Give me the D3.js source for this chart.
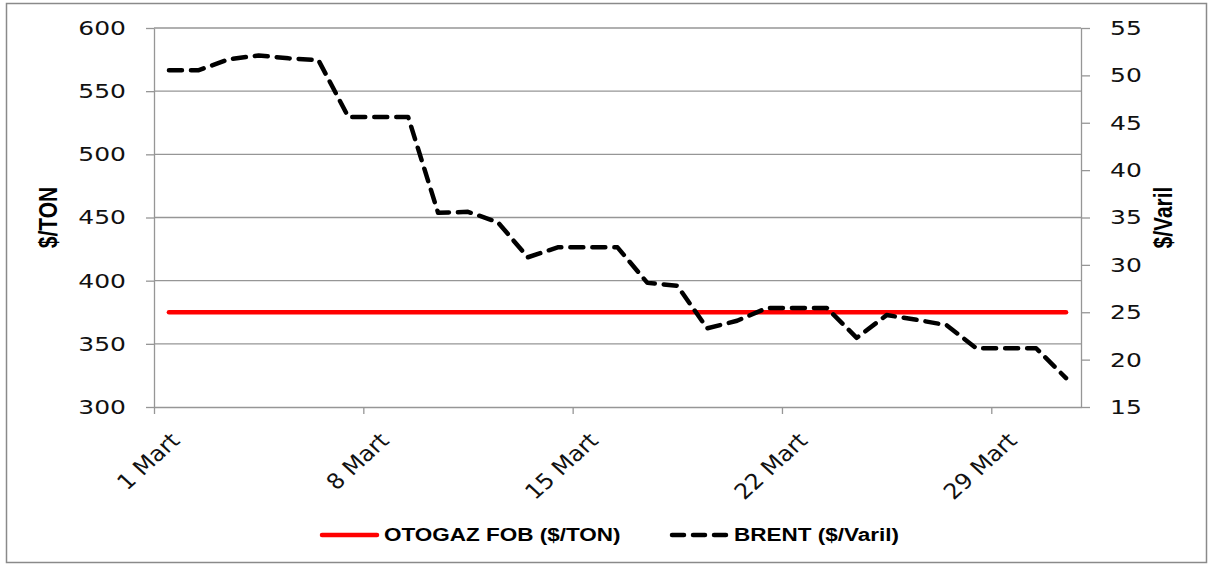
<!DOCTYPE html>
<html>
<head>
<meta charset="utf-8">
<script src="https://cdn.jsdelivr.net/npm/d3@7"></script>
<style>
  body { margin: 0; background: #fff; }
</style>
</head>
<body>
<script>
// Data (March, daily)
const days = [1, 2, 3, 4, 5, 6, 7, 8, 9, 10, 11, 12, 13, 14, 15, 16,
              17, 18, 19, 20, 21, 22, 23, 24, 25, 26, 27, 28, 29, 30, 31];
const otogaz = [375, 375, 375, 375, 375, 375, 375, 375, 375, 375, 375, 375, 375, 375, 375, 375,
                375, 375, 375, 375, 375, 375, 375, 375, 375, 375, 375, 375, 375, 375, 375];
const brent = [50.55, 50.55, 51.7, 52.1, 51.8, 51.6, 45.6, 45.6, 45.6, 35.5, 35.6, 34.5, 30.8, 31.85, 31.85, 31.85,
               28.1, 27.8, 23.3, 24.1, 25.45, 25.45, 25.45, 22.3, 24.7, 24.2, 23.65, 21.2, 21.2, 21.2, 18.05];
const tickDays = [1, 8, 15, 22, 29];
const tickLabels = ["1 Mart", "8 Mart", "15 Mart", "22 Mart", "29 Mart"];
const leftTicks = [300, 350, 400, 450, 500, 550, 600];
const rightTicks = [15, 20, 25, 30, 35, 40, 45, 50, 55];
const seriesNames = ["OTOGAZ FOB ($/TON)", "BRENT ($/Varil)"];

(function () {
    const width = 1215, height = 564;
    const SX = 1.25; // text in the reference is stretched horizontally
    const plot = { left: 154, right: 1081, top: 28, bottom: 407 };
    const gridColor = "#969696";

    const svg = d3.select("body")
        .append("svg")
        .attr("width", width)
        .attr("height", height);

    // outer frame
    svg.append("rect")
        .attr("x", 6.5).attr("y", 3.5)
        .attr("width", 1200).attr("height", 559)
        .attr("fill", "#fff")
        .attr("stroke", "#8a8a8a")
        .attr("stroke-width", 1.5);

    // scales
    const x = d3.scaleLinear()
        .domain([0.5, 31.5])
        .range([plot.left, plot.right]);
    const yLeft = d3.scaleLinear()
        .domain([300, 600])
        .range([plot.bottom, plot.top]);
    const yRight = d3.scaleLinear()
        .domain([15, 55])
        .range([plot.bottom, plot.top]);

    // gridlines
    svg.append("g")
        .selectAll("line")
        .data(leftTicks.filter(t => t !== 300))
        .join("line")
        .attr("x1", plot.left).attr("x2", plot.right)
        .attr("y1", d => yLeft(d)).attr("y2", d => yLeft(d))
        .attr("stroke", gridColor)
        .attr("stroke-width", 1.3);

    // left axis
    const gLeft = svg.append("g")
        .attr("transform", `translate(${plot.left}, 0)`)
        .call(d3.axisLeft(yLeft).tickValues(leftTicks).tickSize(8).tickSizeOuter(0));
    gLeft.selectAll("text")
        .attr("x", 0)
        .attr("transform", `translate(-28, 0) scale(${SX}, 1)`);

    // right axis
    const gRight = svg.append("g")
        .attr("transform", `translate(${plot.right}, 0)`)
        .call(d3.axisRight(yRight).tickValues(rightTicks).tickSize(9).tickSizeOuter(0));
    gRight.selectAll("text")
        .attr("x", 0)
        .attr("transform", `translate(29, 0) scale(${SX}, 1)`);

    // bottom axis: tick marks on category boundaries
    const gBottom = svg.append("g")
        .attr("transform", `translate(0, ${plot.bottom})`)
        .call(d3.axisBottom(x)
            .tickValues(tickDays.map(d => d - 0.5))
            .tickFormat("")
            .tickSize(7)
            .tickSizeOuter(0));

    [gLeft, gRight, gBottom].forEach(g => {
        g.selectAll("path, line")
            .attr("stroke", gridColor)
            .attr("stroke-width", 1.3);
        g.selectAll("text")
            .attr("font-family", "DejaVu Sans")
            .attr("font-size", 20)
            .attr("fill", "#111");
    });

    // rotated category labels
    svg.append("g")
        .selectAll("text")
        .data(tickDays)
        .join("text")
        .attr("transform", d => `translate(${x(d) + 12}, 442) scale(1.1, 1) rotate(-45)`)
        .attr("text-anchor", "end")
        .attr("font-family", "DejaVu Sans")
        .attr("font-size", 21.5)
        .attr("fill", "#111")
        .text((d, i) => tickLabels[i]);

    // axis titles
    svg.append("text")
        .attr("transform", `translate(57, ${(plot.top + plot.bottom) / 2}) scale(${SX}, 1) rotate(-90)`)
        .attr("text-anchor", "middle")
        .attr("font-family", "Liberation Sans")
        .attr("font-weight", "bold")
        .attr("font-size", 21)
        .text("$/TON");
    svg.append("text")
        .attr("transform", `translate(1172, ${(plot.top + plot.bottom) / 2}) scale(${SX}, 1) rotate(-90)`)
        .attr("text-anchor", "middle")
        .attr("font-family", "Liberation Sans")
        .attr("font-weight", "bold")
        .attr("font-size", 21)
        .text("$/Varil");

    // series lines
    const lineLeft = d3.line()
        .x((d, i) => x(days[i]))
        .y(d => yLeft(d));
    const lineRight = d3.line()
        .x((d, i) => x(days[i]))
        .y(d => yRight(d));

    svg.append("path")
        .datum(otogaz)
        .attr("d", lineLeft)
        .attr("fill", "none")
        .attr("stroke", "#ff0000")
        .attr("stroke-width", 4.5)
        .attr("stroke-linecap", "round");

    svg.append("path")
        .datum(brent)
        .attr("d", lineRight)
        .attr("fill", "none")
        .attr("stroke", "#000")
        .attr("stroke-width", 4.5)
        .attr("stroke-linecap", "round")
        .attr("stroke-linejoin", "round")
        .attr("stroke-dasharray", "13,9");

    // legend
    const legend = svg.append("g");
    const legendItems = [
        { name: seriesNames[0], x: 320, color: "#ff0000", dash: null },
        { name: seriesNames[1], x: 670, color: "#000", dash: "12,9" }
    ];
    legendItems.forEach(item => {
        legend.append("line")
            .attr("x1", item.x + 2).attr("x2", item.x + 57)
            .attr("y1", 535).attr("y2", 535)
            .attr("stroke", item.color)
            .attr("stroke-width", 4.5)
            .attr("stroke-linecap", "round")
            .attr("stroke-dasharray", item.dash);
        legend.append("text")
            .attr("transform", `translate(${item.x + 64}, 541) scale(${SX}, 1)`)
            .attr("font-family", "Liberation Sans")
            .attr("font-weight", "bold")
            .attr("font-size", 18)
            .attr("fill", "#000")
            .text(item.name);
    });
})();
</script>
</body>
</html>
